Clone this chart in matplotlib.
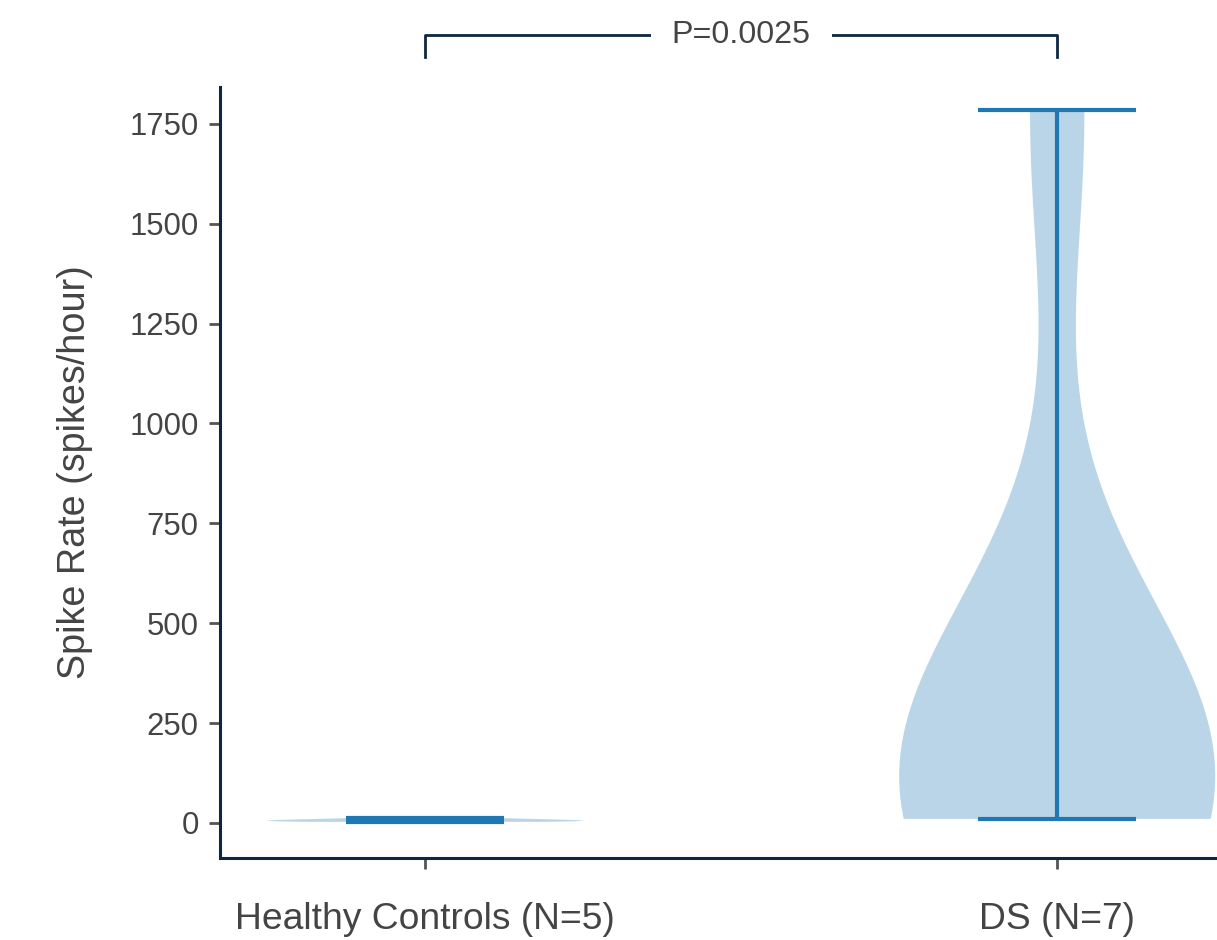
import matplotlib
matplotlib.use("Agg")
import matplotlib.pyplot as plt

plt.rcParams['font.family'] = ['Liberation Sans', 'DejaVu Sans']

groups = ['Healthy Controls (N=5)', 'DS (N=7)']
healthy = [2.5, 4.0, 6.5, 8.0, 12.0]
ds = [10, 30, 70, 120, 180, 300, 1785]
p_label = 'P=0.0025'

spine_col = '#0d2740'
text_col = '#444444'


def main():
    fig = plt.figure(figsize=(6.085, 4.7), dpi=200)
    ax = fig.add_axes([0.1805, 0.0872, 0.857, 0.8206])

    ax.violinplot([healthy, ds], positions=[0, 1])

    ax.set_xlim(-0.325, 1.325)
    ax.set_ylim(-88, 1843)
    ax.set_xticks([0, 1])
    ax.set_xticklabels(groups, fontsize=13.4, color=text_col)
    ax.set_yticks([0, 250, 500, 750, 1000, 1250, 1500, 1750])
    ax.tick_params(axis='y', labelsize=11.2, labelcolor=text_col, color='#555555',
                   length=4, width=1)
    ax.tick_params(axis='x', color='#555555', length=4, width=1, pad=12)
    ax.set_ylabel('Spike Rate (spikes/hour)', fontsize=13.6, color=text_col, labelpad=13)

    for s in ['top', 'right']:
        ax.spines[s].set_visible(False)
    for s in ['left', 'bottom']:
        ax.spines[s].set_color(spine_col)
        ax.spines[s].set_linewidth(1.1)

    # significance bracket
    y_top, y_leg = 1973, 1918
    ax.plot([0, 0, 1, 1], [y_leg, y_top, y_top, y_leg], color=spine_col,
            lw=1.0, clip_on=False)
    ax.text(0.5, y_top, p_label, ha='center', va='center', fontsize=11.6,
            color=text_col, bbox=dict(facecolor='white', edgecolor='none', pad=7.5),
            clip_on=False)

    fig.savefig('out.png', dpi=200)
    plt.close(fig)


if __name__ == "__main__":
    main()
